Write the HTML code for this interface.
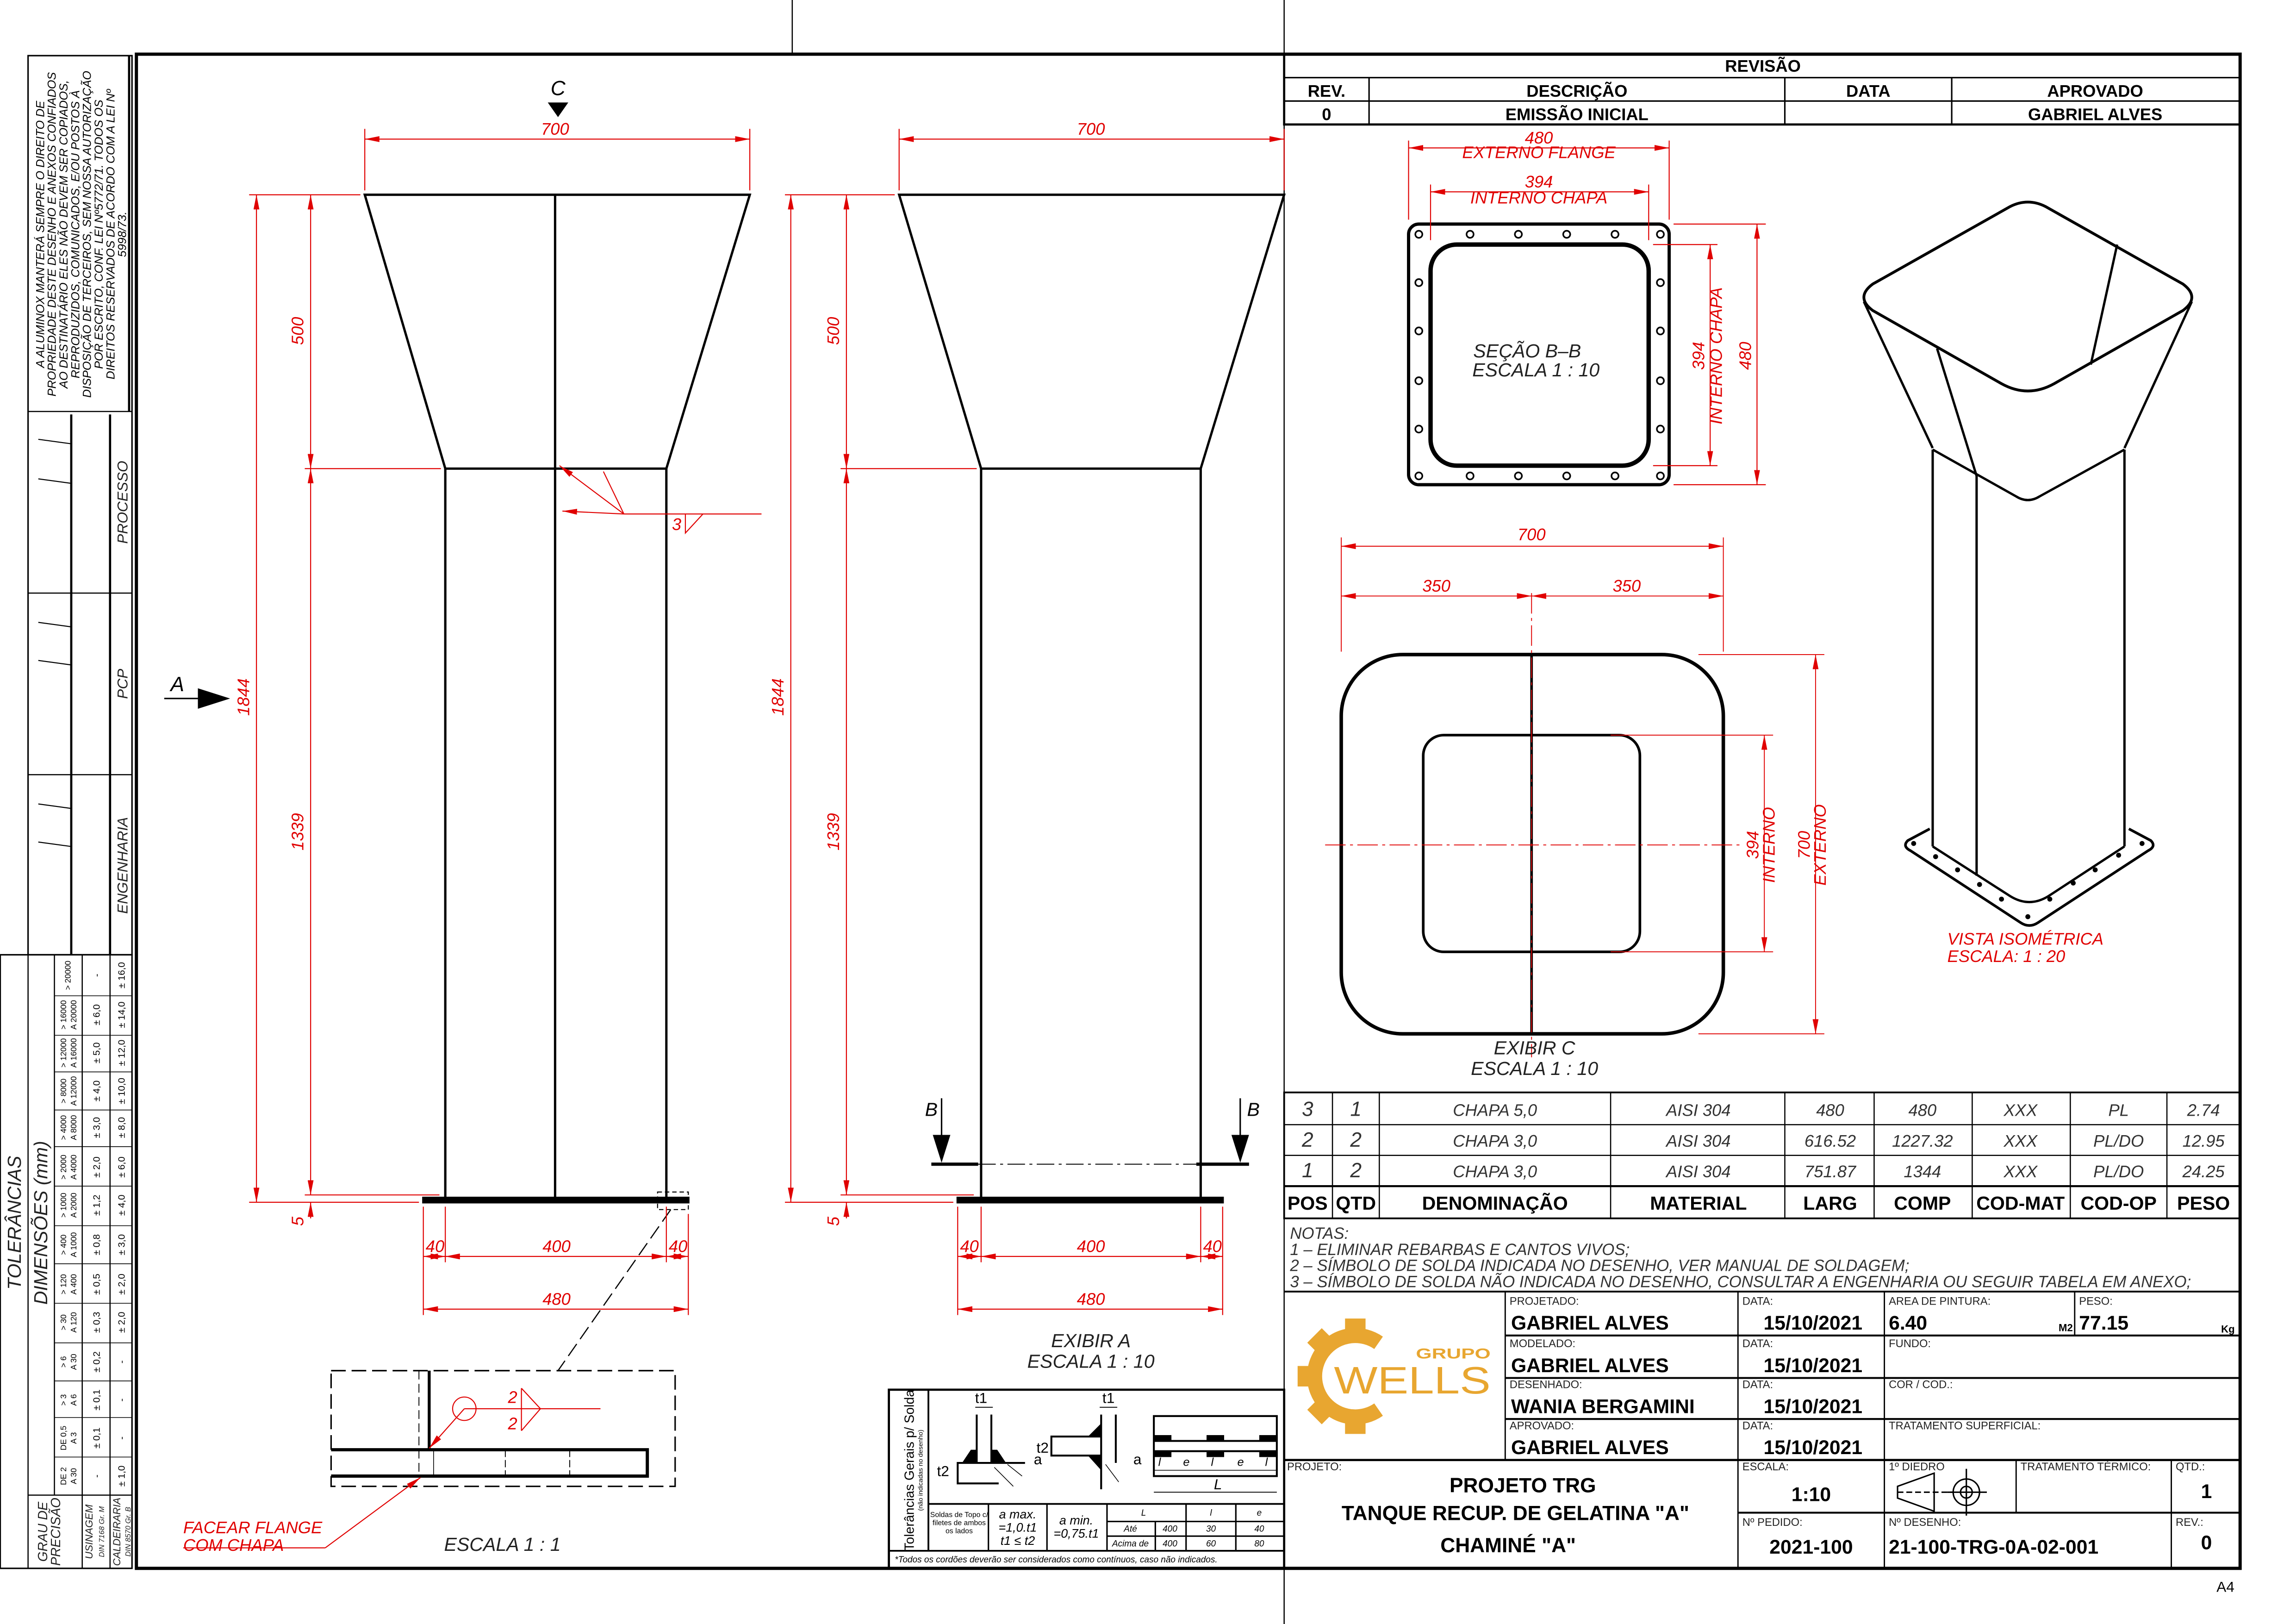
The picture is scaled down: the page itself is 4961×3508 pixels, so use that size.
<!DOCTYPE html>
<html><head><meta charset="utf-8"><style>
html,body{margin:0;padding:0;background:#fff}
svg{display:block}
text{font-family:"Liberation Sans",sans-serif}
.d{fill:#e00000;font-style:italic;font-size:11.5px}
</style></head><body>
<svg xmlns="http://www.w3.org/2000/svg" width="4961" height="3508" viewBox="0 0 1568 1109">
<defs>
<marker id="a" viewBox="0 0 10 4" refX="10" refY="2" markerWidth="10" markerHeight="4" orient="auto-start-reverse" markerUnits="userSpaceOnUse"><path d="M0,0 L10,2 L0,4z" fill="#e00000"/></marker>
</defs>
<rect width="1568" height="1109" fill="#fff"/>

<!-- sheet lines -->
<line x1="541" y1="0" x2="541" y2="37" stroke="#000" stroke-width="0.8"/>
<line x1="877" y1="0" x2="877" y2="1109" stroke="#000" stroke-width="0.8"/>
<rect x="93" y="37" width="1437" height="1034" fill="none" stroke="#000" stroke-width="2.2"/>
<text x="1520" y="1087" font-size="10" text-anchor="middle">A4</text>

<!-- LEFT SIDEBAR -->
<g stroke="#000" fill="none">
<rect x="19" y="38" width="71" height="614" stroke-width="1"/>
<line x1="88" y1="38" x2="88" y2="281" stroke-width="1.5"/>
<line x1="19" y1="281" x2="90" y2="281" stroke-width="0.8"/>
<line x1="19" y1="405" x2="90" y2="405" stroke-width="0.8"/>
<line x1="19" y1="529" x2="90" y2="529" stroke-width="0.8"/>
<line x1="48.5" y1="283" x2="48.5" y2="652" stroke-width="1.5"/>
<line x1="75" y1="283" x2="75" y2="652" stroke-width="1.5"/>
<line x1="26" y1="300" x2="48" y2="303" stroke-width="0.7"/><line x1="26" y1="327" x2="48" y2="330" stroke-width="0.7"/>
<line x1="26" y1="425" x2="48" y2="428" stroke-width="0.7"/><line x1="26" y1="451" x2="48" y2="454" stroke-width="0.7"/>
<line x1="26" y1="549" x2="48" y2="552" stroke-width="0.7"/><line x1="26" y1="575" x2="48" y2="578" stroke-width="0.7"/>
<rect x="0" y="652" width="90" height="419" stroke-width="1"/>
<line x1="19" y1="652" x2="19" y2="1071" stroke-width="0.8"/>
<line x1="37" y1="652" x2="37" y2="1021" stroke-width="0.8"/>
<line x1="56" y1="652" x2="56" y2="1071" stroke-width="0.8"/>
<line x1="75" y1="652" x2="75" y2="1071" stroke-width="0.8"/>
<line x1="19" y1="1021" x2="90" y2="1021" stroke-width="0.8"/>
<g stroke-width="0.5">
<line x1="37" y1="680" x2="90" y2="680"/><line x1="37" y1="707" x2="90" y2="707"/><line x1="37" y1="732" x2="90" y2="732"/>
<line x1="37" y1="758" x2="90" y2="758"/><line x1="37" y1="783" x2="90" y2="783"/><line x1="37" y1="810" x2="90" y2="810"/>
<line x1="37" y1="837" x2="90" y2="837"/><line x1="37" y1="863" x2="90" y2="863"/><line x1="37" y1="890" x2="90" y2="890"/>
<line x1="37" y1="917" x2="90" y2="917"/><line x1="37" y1="943" x2="90" y2="943"/><line x1="37" y1="968" x2="90" y2="968"/>
<line x1="37" y1="995" x2="90" y2="995"/>
</g>
</g>
<g font-size="8" font-style="italic" text-anchor="middle">
<text transform="translate(30,160) rotate(-90)">A ALUMINOX  MANTERÁ SEMPRE O DIREITO DE</text>
<text transform="translate(38,160) rotate(-90)">PROPRIEDADE DESTE DESENHO E ANEXOS CONFIADOS</text>
<text transform="translate(46,160) rotate(-90)">AO DESTINATÁRIO ELES NÃO DEVEM SER COPIADOS,</text>
<text transform="translate(54,160) rotate(-90)">REPRODUZIDOS, COMUNICADOS, E/OU POSTOS À</text>
<text transform="translate(62,160) rotate(-90)">DISPOSIÇÃO DE TERCEIROS, SEM NOSSA AUTORIZAÇÃO</text>
<text transform="translate(70,160) rotate(-90)">POR ESCRITO, CONF. LEI Nº5772/71. TODOS OS</text>
<text transform="translate(78,160) rotate(-90)">DIREITOS RESERVADOS DE ACORDO COM A LEI Nº</text>
<text transform="translate(86,160) rotate(-90)">5998/73.</text>
</g>
<g font-size="10" font-style="italic" text-anchor="middle" fill="#222">
<text transform="translate(87,343) rotate(-90)">PROCESSO</text>
<text transform="translate(87,467) rotate(-90)">PCP</text>
<text transform="translate(87,591) rotate(-90)">ENGENHARIA</text>
<text transform="translate(14,835) rotate(-90)" font-size="13">TOLERÂNCIAS</text>
<text transform="translate(32,835) rotate(-90)" font-size="13">DIMENSÕES  (mm)</text>
<text transform="translate(32,1046) rotate(-90)" font-size="9">GRAU DE</text>
<text transform="translate(41,1046) rotate(-90)" font-size="9">PRECISÃO</text>
<text transform="translate(63,1046) rotate(-90)" font-size="7">USINAGEM</text>
<text transform="translate(71,1046) rotate(-90)" font-size="5">DIN 7168 Gr. M</text>
<text transform="translate(82,1046) rotate(-90)" font-size="7">CALDEIRARIA</text>
<text transform="translate(89,1046) rotate(-90)" font-size="5">DIN 8570 Gr. B</text>
</g>
<g font-size="5.5" text-anchor="middle">
<text transform="translate(45,1008) rotate(-90)">DE 2</text><text transform="translate(52,1008) rotate(-90)">A 30</text>
<text transform="translate(45,982) rotate(-90)">DE 0,5</text><text transform="translate(52,982) rotate(-90)">A 3</text>
<text transform="translate(45,956) rotate(-90)">&gt; 3</text><text transform="translate(52,956) rotate(-90)">A 6</text>
<text transform="translate(45,930) rotate(-90)">&gt; 6</text><text transform="translate(52,930) rotate(-90)">A 30</text>
<text transform="translate(45,903) rotate(-90)">&gt; 30</text><text transform="translate(52,903) rotate(-90)">A 120</text>
<text transform="translate(45,877) rotate(-90)">&gt; 120</text><text transform="translate(52,877) rotate(-90)">A 400</text>
<text transform="translate(45,850) rotate(-90)">&gt; 400</text><text transform="translate(52,850) rotate(-90)">A 1000</text>
<text transform="translate(45,823) rotate(-90)">&gt; 1000</text><text transform="translate(52,823) rotate(-90)">A 2000</text>
<text transform="translate(45,797) rotate(-90)">&gt; 2000</text><text transform="translate(52,797) rotate(-90)">A 4000</text>
<text transform="translate(45,770) rotate(-90)">&gt; 4000</text><text transform="translate(52,770) rotate(-90)">A 8000</text>
<text transform="translate(45,745) rotate(-90)">&gt; 8000</text><text transform="translate(52,745) rotate(-90)">A 12000</text>
<text transform="translate(45,719) rotate(-90)">&gt; 12000</text><text transform="translate(52,719) rotate(-90)">A 16000</text>
<text transform="translate(45,693) rotate(-90)">&gt; 16000</text><text transform="translate(52,693) rotate(-90)">A 20000</text>
<text transform="translate(48,666) rotate(-90)">&gt; 20000</text>
</g>
<g font-size="6.5" text-anchor="middle">
<text transform="translate(68,1008) rotate(-90)">-</text>
<text transform="translate(68,982) rotate(-90)">± 0,1</text>
<text transform="translate(68,956) rotate(-90)">± 0,1</text>
<text transform="translate(68,930) rotate(-90)">± 0,2</text>
<text transform="translate(68,903) rotate(-90)">± 0,3</text>
<text transform="translate(68,877) rotate(-90)">± 0,5</text>
<text transform="translate(68,850) rotate(-90)">± 0,8</text>
<text transform="translate(68,823) rotate(-90)">± 1,2</text>
<text transform="translate(68,797) rotate(-90)">± 2,0</text>
<text transform="translate(68,770) rotate(-90)">± 3,0</text>
<text transform="translate(68,745) rotate(-90)">± 4,0</text>
<text transform="translate(68,719) rotate(-90)">± 5,0</text>
<text transform="translate(68,693) rotate(-90)">± 6,0</text>
<text transform="translate(68,666) rotate(-90)">-</text>
<text transform="translate(85,1008) rotate(-90)">± 1,0</text>
<text transform="translate(85,982) rotate(-90)">-</text>
<text transform="translate(85,956) rotate(-90)">-</text>
<text transform="translate(85,930) rotate(-90)">-</text>
<text transform="translate(85,903) rotate(-90)">± 2,0</text>
<text transform="translate(85,877) rotate(-90)">± 2,0</text>
<text transform="translate(85,850) rotate(-90)">± 3,0</text>
<text transform="translate(85,823) rotate(-90)">± 4,0</text>
<text transform="translate(85,797) rotate(-90)">± 6,0</text>
<text transform="translate(85,770) rotate(-90)">± 8,0</text>
<text transform="translate(85,745) rotate(-90)">± 10,0</text>
<text transform="translate(85,719) rotate(-90)">± 12,0</text>
<text transform="translate(85,693) rotate(-90)">± 14,0</text>
<text transform="translate(85,666) rotate(-90)">± 16,0</text>
</g>

<!-- FRONT VIEW 1 -->
<g stroke="#000" fill="none" stroke-width="1.6">
<polygon points="249,133 512,133 455,320 304,320"/>
<line x1="304" y1="320" x2="304" y2="818"/>
<line x1="455" y1="320" x2="455" y2="818"/>
<line x1="379" y1="133" x2="379" y2="818"/>
<rect x="289" y="818" width="181" height="3" fill="#000"/>
</g>
<rect x="449" y="814" width="21" height="12" fill="none" stroke="#000" stroke-width="0.7" stroke-dasharray="3,2"/>
<line x1="458" y1="826" x2="381" y2="936" stroke="#000" stroke-width="0.8" stroke-dasharray="10,4"/>
<text x="381" y="65" font-size="14" text-anchor="middle" font-style="italic">C</text>
<path d="M374,70 L388,70 L381,80z" fill="#000"/>
<text x="121" y="472" font-size="14" text-anchor="middle" font-style="italic">A</text>
<line x1="112" y1="477" x2="135" y2="477" stroke="#000" stroke-width="1"/>
<path d="M135,470 L157,477 L135,484z" fill="#000"/>
<g stroke="#e00000" stroke-width="0.7" fill="none">
<line x1="249" y1="88" x2="249" y2="130"/><line x1="512" y1="88" x2="512" y2="130"/>
<line x1="249" y1="95" x2="512" y2="95" marker-start="url(#a)" marker-end="url(#a)"/>
<line x1="170" y1="133" x2="246" y2="133"/><line x1="208" y1="320" x2="301" y2="320"/>
<line x1="170" y1="821" x2="286" y2="821"/><line x1="208" y1="816" x2="300" y2="816"/>
<line x1="212" y1="133" x2="212" y2="320" marker-start="url(#a)" marker-end="url(#a)"/>
<line x1="212" y1="320" x2="212" y2="816" marker-start="url(#a)" marker-end="url(#a)"/>
<line x1="175" y1="133" x2="175" y2="821" marker-start="url(#a)" marker-end="url(#a)"/>
<line x1="212" y1="832" x2="212" y2="821" marker-end="url(#a)"/>
<line x1="289" y1="824" x2="289" y2="898"/><line x1="304" y1="824" x2="304" y2="862"/>
<line x1="455" y1="824" x2="455" y2="862"/><line x1="470" y1="829" x2="470" y2="898"/>
<line x1="289" y1="858" x2="304" y2="858" marker-start="url(#a)" marker-end="url(#a)"/>
<line x1="304" y1="858" x2="455" y2="858" marker-start="url(#a)" marker-end="url(#a)"/>
<line x1="455" y1="858" x2="470" y2="858" marker-start="url(#a)" marker-end="url(#a)"/>
<line x1="289" y1="894" x2="470" y2="894" marker-start="url(#a)" marker-end="url(#a)"/>
<line x1="426" y1="351" x2="382" y2="318" marker-end="url(#a)"/>
<line x1="426" y1="351" x2="412" y2="322"/>
<line x1="426" y1="351" x2="384" y2="349" marker-end="url(#a)"/>
<line x1="426" y1="351" x2="520" y2="351"/>
<polyline points="468,351 468,364 480,351"/>
</g>
<text class="d" x="379" y="92" text-anchor="middle">700</text>
<text class="d" transform="translate(207,226) rotate(-90)" text-anchor="middle">500</text>
<text class="d" transform="translate(207,568) rotate(-90)" text-anchor="middle">1339</text>
<text class="d" transform="translate(170,476) rotate(-90)" text-anchor="middle">1844</text>
<text class="d" transform="translate(207,834) rotate(-90)" text-anchor="middle">5</text>
<text class="d" x="297" y="855" text-anchor="middle">40</text>
<text class="d" x="380" y="855" text-anchor="middle">400</text>
<text class="d" x="463" y="855" text-anchor="middle">40</text>
<text class="d" x="380" y="891" text-anchor="middle">480</text>
<text class="d" x="462" y="362" text-anchor="middle">3</text>

<!-- DETAIL 1:1 -->
<rect x="226" y="936" width="235" height="79" fill="none" stroke="#000" stroke-width="1" stroke-dasharray="10,4"/>
<g stroke="#000" fill="none">
<line x1="293" y1="936" x2="293" y2="990" stroke-width="2"/>
<line x1="286" y1="936" x2="286" y2="1008" stroke-width="0.6" stroke-dasharray="6,3"/>
<polyline points="226,990 442,990 442,1008 226,1008" stroke-width="2.2"/>
<line x1="296" y1="990" x2="296" y2="1008" stroke-width="0.5"/>
<line x1="345" y1="990" x2="345" y2="1008" stroke-width="0.6" stroke-dasharray="5,2"/>
<line x1="389" y1="990" x2="389" y2="1008" stroke-width="0.6" stroke-dasharray="5,2"/>
</g>
<g stroke="#e00000" stroke-width="0.7" fill="none">
<circle cx="317" cy="962" r="8"/>
<line x1="317" y1="962" x2="293" y2="989" marker-end="url(#a)"/>
<line x1="317" y1="962" x2="410" y2="962"/>
<polyline points="356,948 356,977"/>
<polyline points="356,948 369,962 356,977"/>
<line x1="222" y1="1057" x2="287" y2="1009" marker-end="url(#a)"/>
<line x1="125" y1="1057" x2="222" y2="1057"/>
</g>
<text class="d" x="350" y="958" text-anchor="middle">2</text>
<text class="d" x="350" y="976" text-anchor="middle">2</text>
<text class="d" x="125" y="1047">FACEAR  FLANGE</text>
<text class="d" x="125" y="1059">COM  CHAPA</text>
<text x="343" y="1059" font-size="13" font-style="italic" text-anchor="middle" fill="#222">ESCALA  1  :  1</text>

<!-- FRONT VIEW 2 -->
<g stroke="#000" fill="none" stroke-width="1.6">
<polygon points="614,133 877,133 820,320 670,320"/>
<line x1="670" y1="320" x2="670" y2="818"/>
<line x1="820" y1="320" x2="820" y2="818"/>
<rect x="654" y="818" width="181" height="3" fill="#000"/>
</g>
<line x1="636" y1="795" x2="668" y2="795" stroke="#000" stroke-width="2.2"/>
<line x1="817" y1="795" x2="853" y2="795" stroke="#000" stroke-width="2.2"/>
<line x1="668" y1="795" x2="817" y2="795" stroke="#000" stroke-width="0.6" stroke-dasharray="12,3,2,3"/>
<line x1="643" y1="750" x2="643" y2="775" stroke="#000" stroke-width="1"/>
<path d="M637,775 L649,775 L643,794z" fill="#000"/>
<line x1="847" y1="750" x2="847" y2="775" stroke="#000" stroke-width="1"/>
<path d="M841,775 L853,775 L847,794z" fill="#000"/>
<text x="636" y="762" font-size="13" font-style="italic" text-anchor="middle">B</text>
<text x="856" y="762" font-size="13" font-style="italic" text-anchor="middle">B</text>
<g stroke="#e00000" stroke-width="0.7" fill="none">
<line x1="614" y1="88" x2="614" y2="130"/><line x1="877" y1="88" x2="877" y2="130"/>
<line x1="614" y1="95" x2="877" y2="95" marker-start="url(#a)" marker-end="url(#a)"/>
<line x1="536" y1="133" x2="611" y2="133"/><line x1="574" y1="320" x2="667" y2="320"/>
<line x1="536" y1="821" x2="651" y2="821"/><line x1="574" y1="816" x2="665" y2="816"/>
<line x1="578" y1="133" x2="578" y2="320" marker-start="url(#a)" marker-end="url(#a)"/>
<line x1="578" y1="320" x2="578" y2="816" marker-start="url(#a)" marker-end="url(#a)"/>
<line x1="540" y1="133" x2="540" y2="821" marker-start="url(#a)" marker-end="url(#a)"/>
<line x1="578" y1="832" x2="578" y2="821" marker-end="url(#a)"/>
<line x1="654" y1="824" x2="654" y2="898"/><line x1="670" y1="824" x2="670" y2="862"/>
<line x1="820" y1="824" x2="820" y2="862"/><line x1="835" y1="824" x2="835" y2="898"/>
<line x1="654" y1="858" x2="670" y2="858" marker-start="url(#a)" marker-end="url(#a)"/>
<line x1="670" y1="858" x2="820" y2="858" marker-start="url(#a)" marker-end="url(#a)"/>
<line x1="820" y1="858" x2="835" y2="858" marker-start="url(#a)" marker-end="url(#a)"/>
<line x1="654" y1="894" x2="835" y2="894" marker-start="url(#a)" marker-end="url(#a)"/>
</g>
<text class="d" x="745" y="92" text-anchor="middle">700</text>
<text class="d" transform="translate(573,226) rotate(-90)" text-anchor="middle">500</text>
<text class="d" transform="translate(573,568) rotate(-90)" text-anchor="middle">1339</text>
<text class="d" transform="translate(535,476) rotate(-90)" text-anchor="middle">1844</text>
<text class="d" transform="translate(573,834) rotate(-90)" text-anchor="middle">5</text>
<text class="d" x="662" y="855" text-anchor="middle">40</text>
<text class="d" x="745" y="855" text-anchor="middle">400</text>
<text class="d" x="828" y="855" text-anchor="middle">40</text>
<text class="d" x="745" y="891" text-anchor="middle">480</text>
<text x="745" y="920" font-size="13" font-style="italic" text-anchor="middle" fill="#222">EXIBIR  A</text>
<text x="745" y="934" font-size="13" font-style="italic" text-anchor="middle" fill="#222">ESCALA  1  :  10</text>

<!-- REVISION TABLE -->
<g stroke="#000" fill="none">
<rect x="877" y="37" width="653" height="48" stroke-width="1.5"/>
<line x1="877" y1="53" x2="1530" y2="53" stroke-width="1"/>
<line x1="877" y1="69" x2="1530" y2="69" stroke-width="1"/>
<line x1="935" y1="53" x2="935" y2="85" stroke-width="1"/>
<line x1="1219" y1="53" x2="1219" y2="85" stroke-width="1"/>
<line x1="1333" y1="53" x2="1333" y2="85" stroke-width="1"/>
</g>
<g font-size="11.5" font-weight="bold" text-anchor="middle">
<text x="1204" y="49">REVISÃO</text>
<text x="906" y="66">REV.</text><text x="1077" y="66">DESCRIÇÃO</text><text x="1276" y="66">DATA</text><text x="1431" y="66">APROVADO</text>
<text x="906" y="82">0</text><text x="1077" y="82">EMISSÃO INICIAL</text><text x="1431" y="82">GABRIEL ALVES</text>
</g>

<!-- SECTION B-B -->
<rect x="962" y="153" width="178" height="178" rx="7" fill="none" stroke="#000" stroke-width="2.2"/>
<rect x="977" y="167" width="149" height="151" rx="18" fill="none" stroke="#000" stroke-width="3"/>
<g fill="none" stroke="#000" stroke-width="1.1">
<circle cx="969" cy="160" r="2.4"/><circle cx="1004" cy="160" r="2.4"/><circle cx="1037" cy="160" r="2.4"/><circle cx="1070" cy="160" r="2.4"/><circle cx="1103" cy="160" r="2.4"/><circle cx="1134" cy="160" r="2.4"/>
<circle cx="969" cy="325" r="2.4"/><circle cx="1004" cy="325" r="2.4"/><circle cx="1037" cy="325" r="2.4"/><circle cx="1070" cy="325" r="2.4"/><circle cx="1103" cy="325" r="2.4"/><circle cx="1134" cy="325" r="2.4"/>
<circle cx="969" cy="193" r="2.4"/><circle cx="969" cy="226" r="2.4"/><circle cx="969" cy="260" r="2.4"/><circle cx="969" cy="293" r="2.4"/>
<circle cx="1134" cy="193" r="2.4"/><circle cx="1134" cy="226" r="2.4"/><circle cx="1134" cy="260" r="2.4"/><circle cx="1134" cy="293" r="2.4"/>
</g>
<g stroke="#e00000" stroke-width="0.7" fill="none">
<line x1="962" y1="96" x2="962" y2="150"/><line x1="1140" y1="96" x2="1140" y2="150"/>
<line x1="962" y1="101" x2="1140" y2="101" marker-start="url(#a)" marker-end="url(#a)"/>
<line x1="977" y1="126" x2="977" y2="164"/><line x1="1126" y1="126" x2="1126" y2="164"/>
<line x1="977" y1="131" x2="1126" y2="131" marker-start="url(#a)" marker-end="url(#a)"/>
<line x1="1143" y1="153" x2="1206" y2="153"/><line x1="1143" y1="331" x2="1206" y2="331"/>
<line x1="1200" y1="153" x2="1200" y2="331" marker-start="url(#a)" marker-end="url(#a)"/>
<line x1="1129" y1="167" x2="1173" y2="167"/><line x1="1129" y1="318" x2="1173" y2="318"/>
<line x1="1168" y1="167" x2="1168" y2="318" marker-start="url(#a)" marker-end="url(#a)"/>
</g>
<text class="d" x="1051" y="98" text-anchor="middle">480</text>
<text class="d" x="1051" y="108" text-anchor="middle">EXTERNO  FLANGE</text>
<text class="d" x="1051" y="128" text-anchor="middle">394</text>
<text class="d" x="1051" y="139" text-anchor="middle">INTERNO  CHAPA</text>
<text class="d" transform="translate(1164,243) rotate(-90)" text-anchor="middle">394</text>
<text class="d" transform="translate(1176,243) rotate(-90)" text-anchor="middle">INTERNO  CHAPA</text>
<text class="d" transform="translate(1196,243) rotate(-90)" text-anchor="middle">480</text>
<text x="1043" y="244" font-size="13" font-style="italic" text-anchor="middle" fill="#222">SEÇÃO  B–B</text>
<text x="1049" y="257" font-size="13" font-style="italic" text-anchor="middle" fill="#222">ESCALA  1  :  10</text>

<!-- VIEW C -->
<rect x="916" y="447" width="261" height="259" rx="42" fill="none" stroke="#000" stroke-width="2.4"/>
<rect x="972" y="502" width="148" height="148" rx="14" fill="none" stroke="#000" stroke-width="1.8"/>
<line x1="1046" y1="447" x2="1046" y2="706" stroke="#000" stroke-width="1.8"/>
<g stroke="#e00000" stroke-width="0.6" fill="none">
<line x1="1046" y1="405" x2="1046" y2="722" stroke-dasharray="14,3,2,3"/>
<line x1="905" y1="577" x2="1190" y2="577" stroke-dasharray="14,3,2,3"/>
<line x1="916" y1="367" x2="916" y2="445"/><line x1="1177" y1="367" x2="1177" y2="445"/>
<line x1="916" y1="373" x2="1177" y2="373" marker-start="url(#a)" marker-end="url(#a)"/>
<line x1="916" y1="407" x2="1046" y2="407" marker-start="url(#a)" marker-end="url(#a)"/>
<line x1="1046" y1="407" x2="1177" y2="407" marker-start="url(#a)" marker-end="url(#a)"/>
<line x1="1100" y1="502" x2="1211" y2="502"/><line x1="1100" y1="650" x2="1211" y2="650"/>
<line x1="1205" y1="502" x2="1205" y2="650" marker-start="url(#a)" marker-end="url(#a)"/>
<line x1="1160" y1="447" x2="1246" y2="447"/><line x1="1160" y1="706" x2="1246" y2="706"/>
<line x1="1240" y1="447" x2="1240" y2="706" marker-start="url(#a)" marker-end="url(#a)"/>
</g>
<text class="d" x="1046" y="369" text-anchor="middle">700</text>
<text class="d" x="981" y="404" text-anchor="middle">350</text>
<text class="d" x="1111" y="404" text-anchor="middle">350</text>
<text class="d" transform="translate(1201,577) rotate(-90)" text-anchor="middle">394</text>
<text class="d" transform="translate(1212,577) rotate(-90)" text-anchor="middle">INTERNO</text>
<text class="d" transform="translate(1236,577) rotate(-90)" text-anchor="middle">700</text>
<text class="d" transform="translate(1247,577) rotate(-90)" text-anchor="middle">EXTERNO</text>
<text x="1048" y="720" font-size="13" font-style="italic" text-anchor="middle" fill="#222">EXIBIR  C</text>
<text x="1048" y="734" font-size="13" font-style="italic" text-anchor="middle" fill="#222">ESCALA  1  :  10</text>

<!-- ISOMETRIC -->
<g stroke="#000" fill="none" stroke-width="1.6" stroke-linejoin="round">
<path d="M1279,194 L1373,141 Q1385,135 1397,141 L1491,194 Q1503,203 1491,212 L1403,262 Q1385,272 1367,262 L1279,212 Q1267,203 1279,194z" stroke-width="1.9"/>
<line x1="1273" y1="206" x2="1320" y2="306"/>
<line x1="1497" y1="206" x2="1451" y2="306"/>
<line x1="1323" y1="238" x2="1350" y2="325"/>
<line x1="1446" y1="167" x2="1428" y2="249"/>
<path d="M1320,307 L1377,339 Q1385,344 1393,339 L1451,307"/>
<line x1="1320" y1="307" x2="1320" y2="578"/>
<line x1="1350" y1="325" x2="1350" y2="598"/>
<line x1="1451" y1="307" x2="1451" y2="578"/>
<path d="M1320,578 L1373,612 Q1386,620 1399,612 L1451,578"/>
<path d="M1318,566 L1303,574 Q1299,578 1305,581 L1380,630 Q1386,634 1392,630 L1467,581 Q1473,578 1469,574 L1454,566" stroke-width="1.8"/>
</g>
<g fill="#000">
<circle cx="1307" cy="576" r="1.7"/><circle cx="1322" cy="585" r="1.7"/><circle cx="1337" cy="594" r="1.7"/><circle cx="1352" cy="604" r="1.7"/><circle cx="1367" cy="614" r="1.7"/><circle cx="1385" cy="626" r="1.7"/>
<circle cx="1400" cy="614" r="1.7"/><circle cx="1416" cy="603" r="1.7"/><circle cx="1431" cy="594" r="1.7"/><circle cx="1447" cy="584" r="1.7"/><circle cx="1463" cy="576" r="1.7"/>
</g>
<text class="d" x="1330" y="645">VISTA  ISOMÉTRICA</text>
<text class="d" x="1330" y="657">ESCALA:  1  :  20</text>

<!-- PARTS LIST -->
<g stroke="#000" fill="none" stroke-width="0.8">
<rect x="877" y="746" width="653" height="86" stroke-width="1.2"/>
<line x1="877" y1="768" x2="1530" y2="768"/><line x1="877" y1="789" x2="1530" y2="789"/><line x1="877" y1="810" x2="1530" y2="810" stroke-width="1.4"/>
<line x1="910" y1="746" x2="910" y2="832"/><line x1="942" y1="746" x2="942" y2="832"/><line x1="1100" y1="746" x2="1100" y2="832"/>
<line x1="1219" y1="746" x2="1219" y2="832"/><line x1="1280" y1="746" x2="1280" y2="832"/><line x1="1347" y1="746" x2="1347" y2="832"/>
<line x1="1414" y1="746" x2="1414" y2="832"/><line x1="1480" y1="746" x2="1480" y2="832"/>
</g>
<g font-size="11.5" font-style="italic" text-anchor="middle" fill="#333">
<text x="893" y="762" font-size="14">3</text><text x="926" y="762" font-size="14">1</text><text x="1021" y="762">CHAPA 5,0</text><text x="1160" y="762">AISI 304</text><text x="1250" y="762">480</text><text x="1313" y="762">480</text><text x="1380" y="762">XXX</text><text x="1447" y="762">PL</text><text x="1505" y="762">2.74</text>
<text x="893" y="783" font-size="14">2</text><text x="926" y="783" font-size="14">2</text><text x="1021" y="783">CHAPA 3,0</text><text x="1160" y="783">AISI 304</text><text x="1250" y="783">616.52</text><text x="1313" y="783">1227.32</text><text x="1380" y="783">XXX</text><text x="1447" y="783">PL/DO</text><text x="1505" y="783">12.95</text>
<text x="893" y="804" font-size="14">1</text><text x="926" y="804" font-size="14">2</text><text x="1021" y="804">CHAPA 3,0</text><text x="1160" y="804">AISI 304</text><text x="1250" y="804">751.87</text><text x="1313" y="804">1344</text><text x="1380" y="804">XXX</text><text x="1447" y="804">PL/DO</text><text x="1505" y="804">24.25</text>
</g>
<g font-size="13" font-weight="bold" text-anchor="middle">
<text x="893" y="826">POS</text><text x="926" y="826">QTD</text><text x="1021" y="826">DENOMINAÇÃO</text><text x="1160" y="826">MATERIAL</text><text x="1250" y="826">LARG</text><text x="1313" y="826">COMP</text><text x="1380" y="826">COD-MAT</text><text x="1447" y="826">COD-OP</text><text x="1505" y="826">PESO</text>
</g>
<line x1="877" y1="882" x2="1530" y2="882" stroke="#000" stroke-width="1.2"/>
<g font-size="11" font-style="italic" fill="#333">
<text x="881" y="846">NOTAS:</text>
<text x="881" y="857">1  –  ELIMINAR  REBARBAS  E  CANTOS  VIVOS;</text>
<text x="881" y="868">2  –  SÍMBOLO  DE  SOLDA  INDICADA  NO  DESENHO,  VER  MANUAL  DE  SOLDAGEM;</text>
<text x="881" y="879">3  –  SÍMBOLO  DE  SOLDA  NÃO  INDICADA  NO  DESENHO,  CONSULTAR  A  ENGENHARIA  OU  SEGUIR  TABELA  EM  ANEXO;</text>
</g>

<!-- TITLE BLOCK -->
<g stroke="#000" fill="none" stroke-width="0.9">
<line x1="1028" y1="882" x2="1028" y2="997"/>
<line x1="1187" y1="882" x2="1187" y2="1071"/>
<line x1="1287" y1="882" x2="1287" y2="1071"/>
<line x1="1417" y1="882" x2="1417" y2="912"/>
<line x1="1028" y1="912" x2="1530" y2="912" stroke-width="1.3"/>
<line x1="1028" y1="941" x2="1530" y2="941" stroke-width="1.3"/>
<line x1="1028" y1="969" x2="1530" y2="969" stroke-width="1.3"/>
<line x1="877" y1="997" x2="1530" y2="997" stroke-width="1.5"/>
<line x1="1187" y1="1033" x2="1530" y2="1033" stroke-width="1.3"/>
<line x1="1377" y1="997" x2="1377" y2="1033"/>
<line x1="1483" y1="997" x2="1483" y2="1071"/>
</g>
<g font-size="7.5" fill="#222">
<text x="1031" y="891">PROJETADO:</text><text x="1190" y="891">DATA:</text><text x="1290" y="891">AREA DE PINTURA:</text><text x="1420" y="891">PESO:</text>
<text x="1031" y="920">MODELADO:</text><text x="1190" y="920">DATA:</text><text x="1290" y="920">FUNDO:</text>
<text x="1031" y="948">DESENHADO:</text><text x="1190" y="948">DATA:</text><text x="1290" y="948">COR / COD.:</text>
<text x="1031" y="976">APROVADO:</text><text x="1190" y="976">DATA:</text><text x="1290" y="976">TRATAMENTO SUPERFICIAL:</text>
<text x="879" y="1004">PROJETO:</text><text x="1190" y="1004">ESCALA:</text><text x="1290" y="1004">1º DIEDRO</text><text x="1380" y="1004">TRATAMENTO TÉRMICO:</text><text x="1486" y="1004">QTD.:</text>
<text x="1190" y="1042">Nº PEDIDO:</text><text x="1290" y="1042">Nº DESENHO:</text><text x="1486" y="1042">REV.:</text>
</g>
<g font-size="13.5" font-weight="bold">
<text x="1032" y="908">GABRIEL ALVES</text><text x="1272" y="908" text-anchor="end">15/10/2021</text><text x="1290" y="908">6.40</text><text x="1420" y="908">77.15</text>
<text x="1032" y="937">GABRIEL ALVES</text><text x="1272" y="937" text-anchor="end">15/10/2021</text>
<text x="1032" y="965">WANIA BERGAMINI</text><text x="1272" y="965" text-anchor="end">15/10/2021</text>
<text x="1032" y="993">GABRIEL ALVES</text><text x="1272" y="993" text-anchor="end">15/10/2021</text>
<text x="1040" y="1019" text-anchor="middle" font-size="14">PROJETO TRG</text>
<text x="1035" y="1038" text-anchor="middle" font-size="14">TANQUE RECUP.  DE GELATINA "A"</text>
<text x="1030" y="1060" text-anchor="middle" font-size="14">CHAMINÉ "A"</text>
<text x="1237" y="1025" text-anchor="middle">1:10</text>
<text x="1237" y="1061" text-anchor="middle">2021-100</text>
<text x="1290" y="1061">21-100-TRG-0A-02-001</text>
<text x="1507" y="1023" text-anchor="middle">1</text>
<text x="1507" y="1058" text-anchor="middle">0</text>
</g>
<text x="1406" y="909" font-size="7" font-weight="bold">M2</text>
<text x="1517" y="910" font-size="7" font-weight="bold">Kg</text>
<g stroke="#000" fill="none" stroke-width="1">
<polygon points="1296,1015 1321,1006 1321,1032 1296,1023"/>
<line x1="1296" y1="1019" x2="1334" y2="1019" stroke-dasharray="4,2"/>
<circle cx="1343" cy="1019" r="9"/><circle cx="1343" cy="1019" r="4"/>
<line x1="1330" y1="1019" x2="1357" y2="1019"/><line x1="1343" y1="1003" x2="1343" y2="1035"/>
</g>
<!-- logo -->
<g fill="#e8a630">
<path d="M941.5,917 A27.8,27.8 0 1,0 941.5,962.6" fill="none" stroke="#e8a630" stroke-width="10.3"/>
<rect x="955" y="932.8" width="10" height="14" transform="rotate(-90 925.6 939.8)"/>
<rect x="955" y="932.8" width="10" height="14" transform="rotate(-135 925.6 939.8)"/>
<rect x="955" y="932.8" width="10" height="14" transform="rotate(180 925.6 939.8)"/>
<rect x="955" y="932.8" width="10" height="14" transform="rotate(135 925.6 939.8)"/>
<rect x="955" y="932.8" width="10" height="14" transform="rotate(90 925.6 939.8)"/>
</g>
<text x="967" y="927.7" font-size="10" font-weight="bold" fill="#e8a630" textLength="51" lengthAdjust="spacingAndGlyphs">GRUPO</text>
<text x="911" y="951.5" font-size="26" fill="#e8a630" textLength="107" lengthAdjust="spacingAndGlyphs">WELLS</text>

<!-- WELD TOLERANCE TABLE -->
<g stroke="#000" fill="none">
<rect x="607" y="949" width="270" height="122" stroke-width="1.5"/>
<line x1="634" y1="949" x2="634" y2="1059" stroke-width="1.2"/>
<line x1="634" y1="1027" x2="877" y2="1027" stroke-width="1.2"/>
<line x1="607" y1="1059" x2="877" y2="1059" stroke-width="1.2"/>
<line x1="675" y1="1027" x2="675" y2="1059"/><line x1="715" y1="1027" x2="715" y2="1059"/>
<line x1="756" y1="1027" x2="756" y2="1059"/><line x1="789" y1="1039" x2="789" y2="1059"/>
<line x1="810" y1="1027" x2="810" y2="1059"/><line x1="844" y1="1027" x2="844" y2="1059"/>
<line x1="756" y1="1039" x2="877" y2="1039"/><line x1="756" y1="1049" x2="877" y2="1049"/>
<g stroke-width="1.3">
<line x1="667" y1="966" x2="667" y2="999"/><line x1="677" y1="966" x2="677" y2="999"/>
<polyline points="700,999 654,999 654,1013 682,1013"/>
</g>
<line x1="666" y1="961" x2="678" y2="961" stroke-width="0.6"/>
<line x1="679" y1="1002" x2="692" y2="1015" stroke-width="0.5"/><line x1="688" y1="1000" x2="698" y2="1008" stroke-width="0.5"/>
<g stroke-width="1.3">
<line x1="752" y1="966" x2="752" y2="1017"/><line x1="762" y1="966" x2="762" y2="999"/>
<polyline points="752,981 718,981 718,994 752,994"/>
</g>
<line x1="751" y1="961" x2="763" y2="961" stroke-width="0.6"/>
<line x1="755" y1="1000" x2="764" y2="1012" stroke-width="0.5"/>
<rect x="788" y="967" width="84" height="41" stroke-width="1.3"/>
<line x1="788" y1="984" x2="872" y2="984" stroke-width="1.3"/>
<line x1="788" y1="991" x2="872" y2="991" stroke-width="1.3"/>
<line x1="788" y1="1004" x2="872" y2="1004" stroke-width="0.5"/>
<line x1="788" y1="1019" x2="872" y2="1019" stroke-width="0.6"/>
</g>
<path d="M663,990 L667,990 L667,999 L657,999z M681,990 L677,990 L677,999 L687,999z" fill="#000"/>
<path d="M752,972 L752,981 L743,981z M752,994 L752,1004 L743,994z" fill="#000"/>
<g fill="#000">
<rect x="788" y="980" width="12" height="4"/><rect x="824" y="980" width="12" height="4"/><rect x="860" y="980" width="12" height="4"/>
<rect x="788" y="991" width="12" height="4"/><rect x="824" y="991" width="12" height="4"/><rect x="860" y="991" width="12" height="4"/>
</g>
<g font-size="10">
<text x="670" y="958" text-anchor="middle">t1</text><text x="757" y="958" text-anchor="middle">t1</text>
<text x="644" y="1008" text-anchor="middle">t2</text><text x="712" y="992" text-anchor="middle">t2</text>
<text x="706" y="1000">a</text><text x="774" y="1000">a</text>
<text x="829" y="1017" font-style="italic">L</text>
<g font-style="italic" font-size="8"><text x="791" y="1001">l</text><text x="808" y="1001">e</text><text x="827" y="1001">l</text><text x="845" y="1001">e</text><text x="864" y="1001">l</text></g>
</g>
<text transform="translate(624,1004) rotate(-90)" font-size="9" text-anchor="middle">Tolerâncias Gerais p/ Solda</text>
<text transform="translate(630,1004) rotate(-90)" font-size="4.5" text-anchor="middle">(não indicadas no desenho)</text>
<g font-size="5" text-anchor="middle"><text x="655" y="1036">Soldas de Topo c/</text><text x="655" y="1041.5">filetes de ambos</text><text x="655" y="1047">os lados</text></g>
<g font-size="8.5" font-style="italic" text-anchor="middle">
<text x="695" y="1037">a max.</text><text x="695" y="1046">=1,0.t1</text><text x="695" y="1055">t1 ≤ t2</text>
<text x="735" y="1041">a min.</text><text x="735" y="1050">=0,75.t1</text>
</g>
<g font-size="6" font-style="italic" text-anchor="middle">
<text x="781" y="1035">L</text><text x="827" y="1035">l</text><text x="860" y="1035">e</text>
<text x="772" y="1046">Até</text><text x="799" y="1046">400</text><text x="827" y="1046">30</text><text x="860" y="1046">40</text>
<text x="772" y="1056">Acima de</text><text x="799" y="1056">400</text><text x="827" y="1056">60</text><text x="860" y="1056">80</text>
</g>
<text x="611" y="1067" font-size="6" font-style="italic">*Todos os cordões deverão ser considerados como contínuos, caso não indicados.</text>
</svg>
</body></html>
